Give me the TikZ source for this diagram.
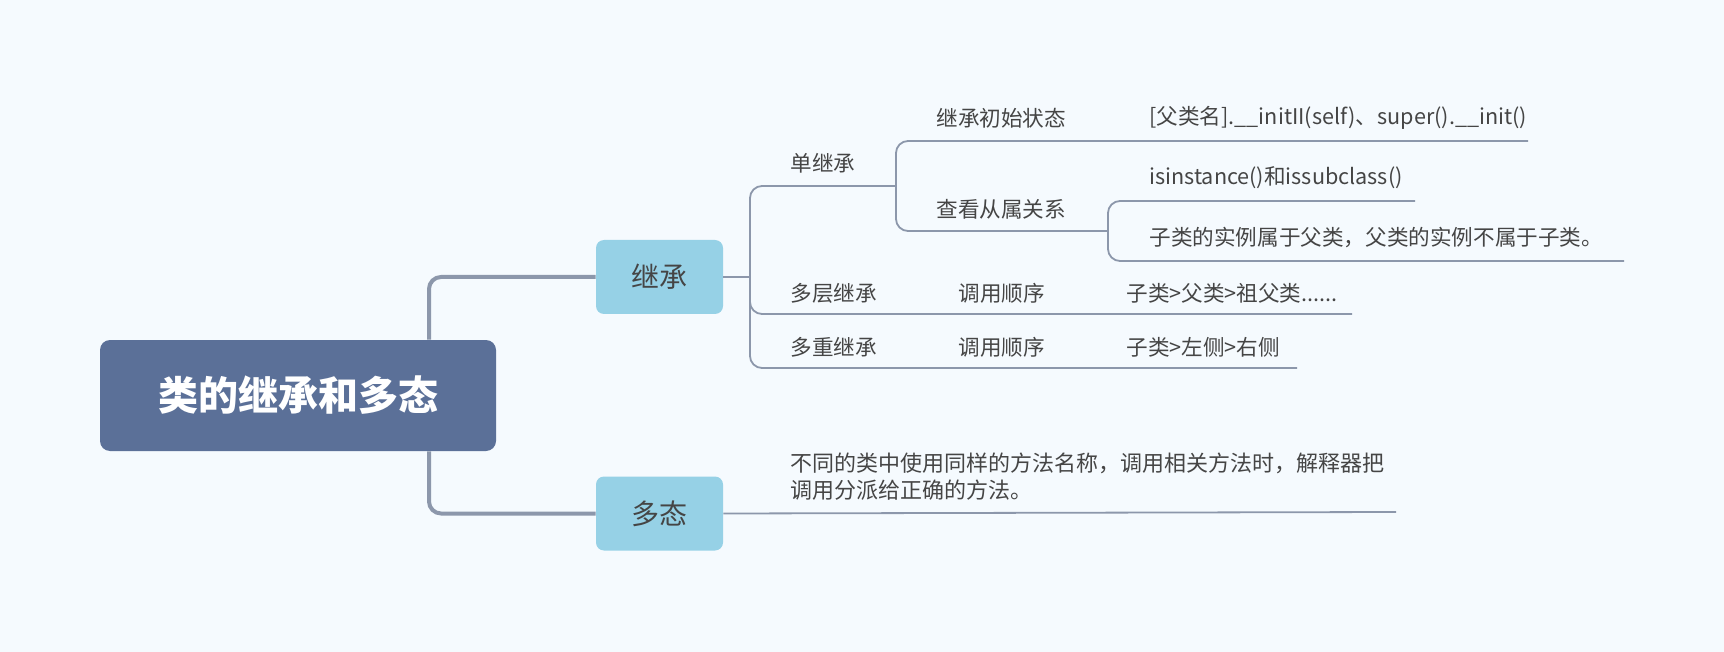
\documentclass[tikz,border=0pt]{standalone}
\usepackage{fontspec}
\setmainfont{Noto Sans CJK SC}
\definecolor{bgcol}{HTML}{F5FAFE}
\definecolor{rootcol}{HTML}{5B7098}
\definecolor{topiccol}{HTML}{96D1E6}
\definecolor{linecol}{HTML}{8C97AB}
\definecolor{txtcol}{HTML}{454545}
\tikzset{
  rootbox/.style={fill=rootcol, rounded corners=5pt, minimum width=198pt, minimum height=55.5pt,
    text=white, font=\fontsize{20pt}{24pt}\selectfont\bfseries},
  topicbox/.style={fill=topiccol, rounded corners=4pt, minimum width=63.5pt, minimum height=37pt,
    text=txtcol, font=\fontsize{14pt}{17pt}\selectfont},
  leaf/.style={anchor=west, inner sep=0pt, text=txtcol, font=\fontsize{10.8pt}{13.5pt}\selectfont},
  trunk/.style={draw=linecol, line width=2pt, rounded corners=6pt},
  link/.style={draw=linecol, line width=0.9pt, rounded corners=6pt}
}
\begin{document}
\begin{tikzpicture}[x=0.5pt,y=-0.5pt]
  \useasboundingbox[fill=bgcol] (0,0) rectangle (1724,652);
  \node[rootbox] (root) at (298,395.5) {类的继承和多态};
  \node[topicbox] (jc) at (659.5,277) {继承};
  \node[topicbox] (dt) at (659.5,513.5) {多态};
  \coordinate (tk) at (429,0);
  \draw[trunk] (root.north -| tk) |- (jc.west);
  \draw[trunk] (root.south -| tk) |- (dt.west);
  % branch points and line ends
  \coordinate (b2) at (750,277); \coordinate (b3) at (896,186); \coordinate (b4) at (1108,231);
  \coordinate (e3a) at (1528,141); \coordinate (e4a) at (1415,201); \coordinate (e4b) at (1624,261);
  \coordinate (e2b) at (1352,314); \coordinate (e2c) at (1297,368); \coordinate (e5) at (1396,512);
  \draw[link] (jc.east) -- (b2);
  \draw[link] (b2) |- (b3); \draw[link] (b2) |- (e2b); \draw[link] (b2) |- (e2c);
  \draw[link] (b3) |- (e3a); \draw[link] (b3) |- (b4);
  \draw[link] (b4) |- (e4a); \draw[link] (b4) |- (e4b);
  \draw[link] (dt.east) -- (e5);
  % texts
  \node[leaf] (dj) at (790,163) {单继承};
  \node[leaf] (cs) at (936,118) {继承初始状态};
  \node[leaf] (cs1) at (1149,118) {[父类名].\_\_initII(self)、super().\_\_init()};
  \node[leaf] (cg) at (936,209) {查看从属关系};
  \node[leaf] (cg1) at (1149,178) {isinstance()和issubclass()};
  \node[leaf] (cg2) at (1149,238) {子类的实例属于父类，父类的实例不属于子类。};
  \node[leaf] (dc) at (790,293) {多层继承};
  \node[leaf] (dc1) at (958,293) {调用顺序};
  \node[leaf] (dc2) at (1126,293) {子类>父类>祖父类......};
  \node[leaf] (dz) at (790,347) {多重继承};
  \node[leaf] (dz1) at (958,347) {调用顺序};
  \node[leaf] (dz2) at (1126,347) {子类>左侧>右侧};
  \node[leaf, align=left, font=\fontsize{11pt}{13.5pt}\selectfont] (dt1) at (790,477)
    {不同的类中使用同样的方法名称，调用相关方法时，解释器把\\调用分派给正确的方法。};
\end{tikzpicture}
\end{document}
